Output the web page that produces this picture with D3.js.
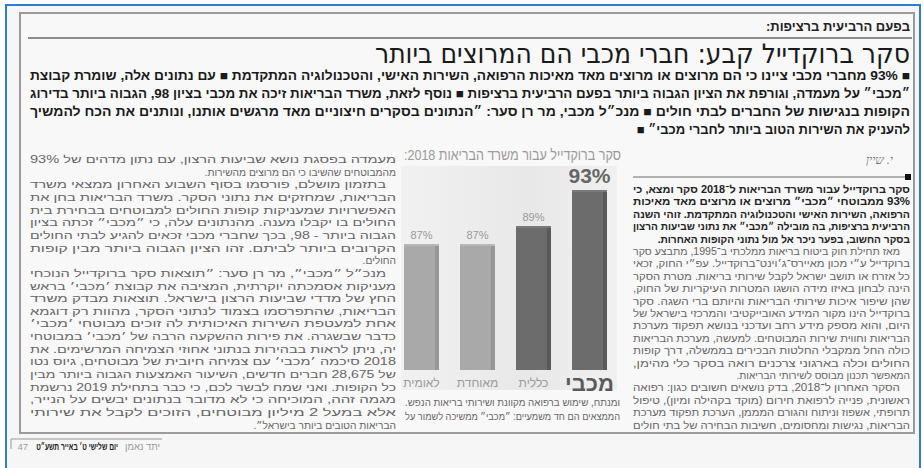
<!DOCTYPE html>
<html><head><meta charset="utf-8">
<script src="https://cdn.jsdelivr.net/npm/d3@7/dist/d3.min.js"></script>
<style>
html,body{margin:0;padding:0;background:#fff;}
svg{display:block;}
</style></head>
<body>
<svg id="c" width="924" height="468"></svg>
<script>
// ---- chart data ----
const categories = ["מכבי", "כללית", "מאוחדת", "לאומית"];
const values = [93, 89, 87, 87];
const valueLabels = ["93%", "89%", "87%", "87%"];
const chartTitle = "סקר ברוקדייל עבור משרד הבריאות 2018:";

// ---- page texts ----
const kicker = "בפעם הרביעית ברציפות:";
const headline = "סקר ברוקדייל קבע: חברי מכבי הם המרוצים ביותר";
const leadLines = [
  "■ 93% מחברי מכבי ציינו כי הם מרוצים או מרוצים מאד מאיכות הרפואה, השירות האישי, והטכנולוגיה המתקדמת ■ עם נתונים אלה, שומרת קבוצת",
  "״מכבי״ על מעמדה, וגורפת את הציון הגבוה ביותר בפעם הרביעית ברציפות ■ נוסף לזאת, משרד הבריאות זיכה את מכבי בציון 98, הגבוה ביותר בדירוג",
  "הקופות בנגישות של החברים לבתי חולים ■ מנכ״ל מכבי, מר רן סער: ״הנתונים בסקרים חיצוניים מאד מרגשים אותנו, ונותנים את הכח להמשיך",
  "להעניק את השירות הטוב ביותר לחברי מכבי״ ■"
];
const byline = "י. שיין";
// [text, bold, indent, justify]
const rightCol = [
  ["סקר ברוקדייל עבור משרד הבריאות ל־2018 סקר ומצא, כי", 1, 0, 1],
  ["93% ממבוטחי ״מכבי״ מרוצים או מרוצים מאד מאיכות", 1, 0, 1],
  ["הרפואה, השירות האישי והטכנולוגיה המתקדמת. זוהי השנה", 1, 0, 1],
  ["הרביעית ברציפות, בה מובילה ״מכבי״ את נתוני שביעות הרצון", 1, 0, 1],
  ["בסקר החשוב, בפער ניכר אל מול נתוני הקופות האחרות.", 1, 0, 0],
  ["מאז תחילת חוק ביטוח בריאות ממלכתי ב־1995, מתבצע סקר", 0, 1, 1],
  ["ברוקדייל ע״י מכון מאיירס־ג׳וינט־ברוקדייל. עפ״י החוק, זכאי", 0, 0, 1],
  ["כל אזרח או תושב ישראל לקבל שירותי בריאות. מטרת הסקר", 0, 0, 1],
  ["הינה לבחון באיזו מידה הושגו המטרות העיקריות של החוק,", 0, 0, 1],
  ["שהן שיפור איכות שירותי הבריאות והיותם ברי השגה. סקר", 0, 0, 1],
  ["ברוקדייל הינו מקור המידע האובייקטיבי והמרכזי בישראל של", 0, 0, 1],
  ["היום, והוא מספק מידע רחב ועדכני בנושא תפקוד מערכת", 0, 0, 1],
  ["הבריאות וחווית שירות המבוטחים. למעשה, מערכת הבריאות", 0, 0, 1],
  ["כולה החל ממקבלי החלטות הבכירים בממשלה, דרך קופות", 0, 0, 1],
  ["החולים וכלה בארגוני צרכנים רואה בסקר כלי מהימן,", 0, 0, 1],
  ["המאפשר תכנון מבוסס לשירותי הבריאות.", 0, 0, 0],
  ["הסקר האחרון ל־2018, בדק נושאים חשובים כגון: רפואה", 0, 1, 1],
  ["ראשונית, פנייה לרפואת חירום (מוקד בקהילה ומיון), טיפול", 0, 0, 1],
  ["תרופתי, אשפוז וניתוח והגורם המממן, הערכת תפקוד מערכת", 0, 0, 1],
  ["הבריאות, נגישות ומחסומים, חשיבות הבחירה של בתי חולים", 0, 0, 1]
];
const midCol = [
  ["ומנתח, שימוש ברפואה מקוונת ושירותי בריאות הנפש.", 0, 0, 1],
  ["הממצאים הם חד משמעיים: ״מכבי״ ממשיכה לשמור על", 0, 0, 1]
];
const leftCol = [
  ["מעמדה בפסגת נושא שביעות הרצון, עם נתון מדהים של 93%", 0, 0, 1],
  ["מהמבוטחים שהשיבו כי הם מרוצים מהשירות.", 0, 0, 0],
  ["בתזמון מושלם, פורסמו בסוף השבוע האחרון ממצאי משרד", 0, 1, 1],
  ["הבריאות, שמחזקים את נתוני הסקר. משרד הבריאות בחן את", 0, 0, 1],
  ["האפשרויות שמעניקות קופות החולים למבוטחים בבחירת בית", 0, 0, 1],
  ["החולים בו יקבלו מענה. מהנתונים עלה, כי ״מכבי״ זכתה בציון", 0, 0, 1],
  ["הגבוה ביותר - 98, בכך שחברי מכבי זכאים להגיע לבתי החולים", 0, 0, 1],
  ["הקרובים ביותר לביתם. זהו הציון הגבוה ביותר מבין קופות", 0, 0, 1],
  ["החולים.", 0, 0, 0],
  ["מנכ״ל ״מכבי״, מר רן סער: ״תוצאות סקר ברוקדייל הנוכחי", 0, 1, 1],
  ["מעניקות אסמכתה יוקרתית, המציבה את קבוצת ׳מכבי׳ בראש", 0, 0, 1],
  ["החץ של מדדי שביעות הרצון בישראל. תוצאות מבדק משרד", 0, 0, 1],
  ["הבריאות, שהתפרסמו בצמוד לנתוני הסקר, מהוות רק דוגמא", 0, 0, 1],
  ["אחת למעטפת השירות האיכותית לה זוכים מבוטחי ׳מכבי׳", 0, 0, 1],
  ["כדבר שבשגרה. את פירות ההשקעה הרבה של ׳מכבי׳ במבוטחי", 0, 0, 1],
  ["יה, ניתן לראות בבהירות בנתוני אחוזי הצמיחה המרשימים. את", 0, 0, 1],
  ["2018 סיכמה ׳מכבי׳ עם צמיחה חיובית של מבוטחים, גיוס נטו", 0, 0, 1],
  ["של 28,675 חברים חדשים, השיעור האמצעות הגבוה ביותר מבין", 0, 0, 1],
  ["כל הקופות. ואני שמח לבשר לכם, כי כבר בתחילת 2019 נרשמת", 0, 0, 1],
  ["מגמה זהה, המוכיחה כי לא מדובר בנתונים יבשים על הנייר,", 0, 0, 1],
  ["אלא במעל 2 מיליון מבוטחים, הזוכים לקבל את שירותי", 0, 0, 1],
  ["הבריאות הטובים ביותר בישראל״.", 0, 0, 0]
];
const footerParts = ["יתד נאמן", "יום שלישי ט׳ באייר תשע״ט", "47"];

const svg = d3.select("#c");
const body = "'Liberation Sans', 'DejaVu Sans', sans-serif";

// page background + frames
svg.append("rect").attr("x",0).attr("y",0).attr("width",924).attr("height",468).attr("fill","#ffffff");
svg.append("rect").attr("x",6).attr("y",5).attr("width",914).attr("height",470)
  .attr("fill","#f6f6f6").attr("stroke","#2a7fd4").attr("stroke-width",2);
svg.append("rect").attr("x",20).attr("y",13).attr("width",894).attr("height",420)
  .attr("fill","#f8f8f8").attr("stroke","#9a9a9a").attr("stroke-width",2);
svg.append("line").attr("x1",28).attr("x2",912).attr("y1",38).attr("y2",38)
  .attr("stroke","#8c8c8c").attr("stroke-width",2);

function rtlText(g, x, y, txt, opts) {
  const t = g.append("text").attr("x", x).attr("y", y)
    .attr("direction","rtl").attr("text-anchor","start")
    .attr("font-family", opts.family || body)
    .attr("font-size", opts.size).attr("font-weight", opts.weight || "normal")
    .attr("fill", opts.fill || "#333").text(txt);
  if (opts.len) t.attr("textLength", opts.len).attr("lengthAdjust", opts.adjust || "spacing");
  if (opts.style) t.attr("font-style", opts.style);
  return t;
}

const g = svg.append("g");
rtlText(g, 910, 31, kicker, {size: 13, weight: "bold", fill: "#222"});
rtlText(g, 910, 63, headline, {size: 27, family: "'DejaVu Sans Condensed','DejaVu Sans',sans-serif", fill:"#1a1a1a", len: 535, adjust: "spacingAndGlyphs"});
leadLines.forEach((l, i) => {
  rtlText(g, 910, 80 + i * 18, l, {size: 13, weight: "bold", fill: "#1a1a1a", len: i < 3 ? 880 : null, adjust: "spacingAndGlyphs"});
});

function column(lines, right, width, y0, dy, size) {
  lines.forEach((l, i) => {
    const ind = l[2] ? 10 : 0;
    rtlText(g, right - ind, y0 + i * dy, l[0], {
      size: size, weight: l[1] ? "bold" : "normal", fill: l[1] ? "#222" : "#666",
      len: l[3] ? width - ind : null, adjust: "spacingAndGlyphs"
    });
  });
}

// right column
rtlText(g, 893, 164, byline, {size: 12, style: "italic", fill: "#777", family: "'Liberation Serif',serif"});
g.append("line").attr("x1",633).attr("x2",908).attr("y1",177).attr("y2",177).attr("stroke","#9a9a9a").attr("stroke-width",1.5);
g.append("rect").attr("x",905).attr("y",174).attr("width",6).attr("height",6).attr("fill","#111");
column(rightCol, 910, 277, 193, 12.4, 10.2);
column(midCol, 620, 215, 406, 14, 10.2);
column(leftCol, 396, 366, 163, 12.65, 10.2);

// ---- bar chart ----
const defs = svg.append("defs");
const grad = defs.append("linearGradient").attr("id","panel").attr("x1",0).attr("x2",1).attr("y1",0).attr("y2",0);
grad.append("stop").attr("offset","0%").attr("stop-color","#f1f1f1");
grad.append("stop").attr("offset","60%").attr("stop-color","#e8e8e8");
grad.append("stop").attr("offset","100%").attr("stop-color","#f0f0f0");

svg.append("rect").attr("x",401).attr("y",166).attr("width",216).attr("height",224).attr("fill","url(#panel)");
rtlText(svg, 621, 160, chartTitle, {size: 15, fill: "#9a9a9a", len: 217, adjust: "spacingAndGlyphs"});

const x = d3.scaleBand().domain(categories).range([607, 404]).paddingInner(0.375).paddingOuter(0);
const y = d3.scaleLinear().domain([73, 93]).range([370, 190]);
const dark = d => d >= 89;

const bars = svg.append("g");
categories.forEach((c, i) => {
  const v = values[i];
  const bx = x(c), bw = x.bandwidth();
  bars.append("rect").attr("x", bx).attr("y", y(v)).attr("width", bw).attr("height", y.range()[0] - y(v))
    .attr("fill", dark(v) ? "#6c6c6c" : "#a9a9a9");
  bars.append("rect").attr("x", bx + bw - 4).attr("y", y(v)).attr("width", 4).attr("height", y.range()[0] - y(v))
    .attr("fill", dark(v) ? "#595959" : "#979797");
  bars.append("rect").attr("x", bx).attr("y", y(v)).attr("width", bw).attr("height", 2)
    .attr("fill", dark(v) ? "#7a7a7a" : "#b8b8b8");
  const big = i === 0;
  bars.append("text").attr("x", bx + bw / 2).attr("y", y(v) - (big ? 7 : 5))
    .attr("text-anchor","middle").attr("font-family", body)
    .attr("font-size", big ? 21 : 11).attr("font-weight", big ? "bold" : "normal")
    .attr("fill", big ? "#666" : "#9a9a9a").text(valueLabels[i]);
  bars.append("text").attr("x", bx + bw / 2).attr("y", big ? 391 : 387)
    .attr("text-anchor","middle").attr("direction","rtl").attr("font-family", body)
    .attr("font-size", big ? 22 : 12).attr("font-weight", big ? "bold" : "normal")
    .attr("fill", big ? "#5a5a5a" : "#9a9a9a").text(c);
});

// footer: three pieces, each squeezed horizontally into its slot via a transform
const f = svg.append("g");
f.append("path").attr("d","M11,449 V439 H162").attr("fill","none").attr("stroke","#999").attr("stroke-width",1);
const fSlots = [[160, 35, "#999", "normal"], [118, 82, "#222", "bold"], [28, 11, "#999", "normal"]];
footerParts.forEach((p, i) => {
  const s = fSlots[i];
  const gg = f.append("g");
  const t = gg.append("text").attr("x", 0).attr("y", 0).attr("text-anchor", "end")
    .attr("font-family", body).attr("font-size", 9.5)
    .attr("fill", s[2]).attr("font-weight", s[3]).text(p);
  const w = t.node().getComputedTextLength();
  const sx = Math.min(1, s[1] / w);
  gg.attr("transform", `translate(${s[0]},450) scale(${sx},1)`);
});
</script>
</body></html>
